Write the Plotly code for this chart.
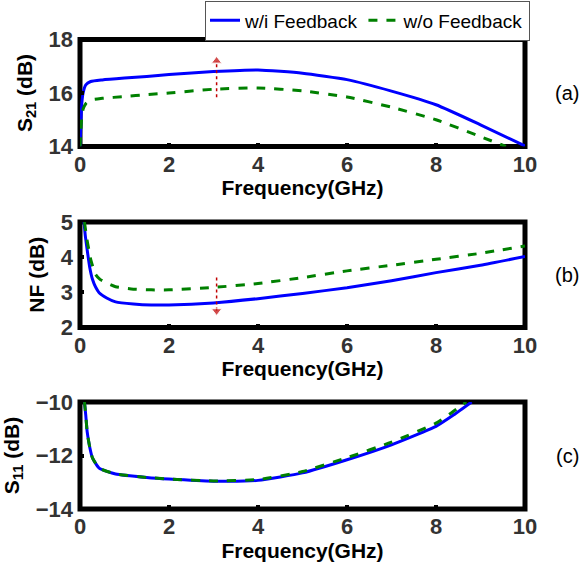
import plotly.graph_objects as go
from plotly.subplots import make_subplots

# ---------------- data ----------------
freq_ticks = [0, 2, 4, 6, 8, 10]

# (a) S21
s21_fb_x = [0, 0.02, 0.04, 0.07, 0.13, 0.24, 0.5, 1.0, 1.5, 2, 3, 4, 5, 6, 7, 8, 9, 10]
s21_fb_y = [14, 14.8, 15.6, 16.0, 16.3, 16.43, 16.49, 16.56, 16.62, 16.69, 16.8, 16.86, 16.74, 16.5, 16.07, 15.56, 14.81, 14.02]
s21_nofb_x = [0, 0.02, 0.04, 0.07, 0.13, 0.24, 0.5, 1.0, 1.5, 2, 3, 4, 5, 6, 7, 8, 9, 9.57]
s21_nofb_y = [14, 14.6, 15.1, 15.4, 15.6, 15.74, 15.8, 15.87, 15.94, 16.0, 16.14, 16.19, 16.08, 15.85, 15.47, 15.0, 14.37, 14.0]

# (b) NF
nf_fb_x = [0.09, 0.12, 0.16, 0.22, 0.28, 0.35, 0.43, 0.6, 0.8, 1.2, 1.6, 2, 3, 4, 5, 6, 7, 8, 9, 10]
nf_fb_y = [5.0, 4.6, 4.22, 3.7, 3.37, 3.15, 2.99, 2.84, 2.73, 2.67, 2.64, 2.64, 2.7, 2.82, 2.97, 3.13, 3.33, 3.56, 3.77, 4.02]
nf_nofb_x = [0.1, 0.15, 0.2, 0.24, 0.3, 0.35, 0.45, 0.58, 0.8, 1.2, 1.6, 2, 3, 4, 5, 6, 7, 8, 9, 10]
nf_nofb_y = [5.0, 4.55, 4.2, 3.94, 3.68, 3.51, 3.37, 3.28, 3.16, 3.09, 3.07, 3.07, 3.14, 3.25, 3.42, 3.61, 3.77, 3.94, 4.11, 4.32]

# (c) S11
s11_fb_x = [0.1, 0.13, 0.16, 0.22, 0.28, 0.43, 0.8, 1.5, 2, 3, 4, 5, 6, 7, 8, 8.4, 8.8]
s11_fb_y = [-10, -10.5, -11.1, -11.7, -12.09, -12.47, -12.69, -12.82, -12.88, -12.96, -12.93, -12.65, -12.16, -11.6, -10.91, -10.48, -10.0]
s11_nofb_x = [0.1, 0.13, 0.16, 0.22, 0.28, 0.43, 0.8, 1.5, 2, 3, 4, 5, 6, 7, 8, 8.35, 8.68]
s11_nofb_y = [-10, -10.5, -11.1, -11.7, -12.09, -12.47, -12.69, -12.82, -12.88, -12.95, -12.9, -12.6, -12.08, -11.5, -10.79, -10.4, -10.0]

# arrows (improvement markers)
arrow_x = [3.07, 3.07]
arrow_a_y = [15.84, 17.2]
arrow_b_y = [3.42, 2.47]

series_names = ["w/i Feedback", "w/o Feedback"]
panel_labels = ["(a)", "(b)", "(c)"]
y_titles = ["S<sub>21</sub> (dB)", "NF (dB)", "S<sub>11</sub> (dB)"]
y_ranges = [[14, 18], [2, 5], [-14, -10]]
y_ticks = [[14, 16, 18], [2, 3, 4, 5], [-14, -12, -10]]

# ---------------- figure ----------------
W, H = 583, 571
L, R = 80, 58
BLUE = "#0000ff"
GREEN = "#008000"
RED = "#c00000"
FONT = "Liberation Sans, Arial, sans-serif"

fig = make_subplots(rows=3, cols=1)

panels = [
    (s21_fb_x, s21_fb_y, s21_nofb_x, s21_nofb_y),
    (nf_fb_x, nf_fb_y, nf_nofb_x, nf_nofb_y),
    (s11_fb_x, s11_fb_y, s11_nofb_x, s11_nofb_y),
]

for i, (fx, fy, nx, ny) in enumerate(panels):
    r = i + 1
    fig.add_trace(go.Scatter(x=fx, y=fy, mode="lines", name=series_names[0],
                             line=dict(color=BLUE, width=3, shape="spline", smoothing=0.5),
                             showlegend=(i == 0), legendgroup="a"), row=r, col=1)
    fig.add_trace(go.Scatter(x=nx, y=ny, mode="lines", name=series_names[1],
                             line=dict(color=GREEN, width=3, dash="dash", shape="spline", smoothing=0.5),
                             showlegend=(i == 0), legendgroup="b"), row=r, col=1)

# red dotted arrows
fig.add_trace(go.Scatter(x=arrow_x, y=arrow_a_y, mode="lines+markers",
                         line=dict(color=RED, width=1.5, dash="dot"),
                         marker=dict(symbol=["circle", "triangle-up"], size=[0, 9], color=RED),
                         showlegend=False, hoverinfo="skip"), row=1, col=1)
fig.add_trace(go.Scatter(x=arrow_x, y=arrow_b_y, mode="lines+markers",
                         line=dict(color=RED, width=1.5, dash="dot"),
                         marker=dict(symbol=["circle", "triangle-down"], size=[0, 9], color=RED),
                         showlegend=False, hoverinfo="skip"), row=2, col=1)

y_px = [(39.5, 146.5), (222, 327.5), (402, 509)]

for i in range(3):
    r = i + 1
    top, bot = y_px[i]
    fig.update_xaxes(row=r, col=1, domain=[0, 1], range=[0, 10], automargin=False,
                     tickvals=freq_ticks, ticks="inside", ticklen=4, tickwidth=4, tickcolor="black",
                     showgrid=False, zeroline=False, showline=False, ticklabelstandoff=2,
                     tickfont=dict(family=FONT, size=22, color="#333333", weight="bold"),
                     title=dict(text="Frequency(GHz)", standoff=4,
                                font=dict(family=FONT, size=21, color="black", weight="bold")))
    fig.update_yaxes(row=r, col=1, domain=[1 - bot / H, 1 - top / H], range=y_ranges[i],
                     automargin=False,
                     tickvals=y_ticks[i], ticks="inside", ticklen=4, tickwidth=4, tickcolor="black",
                     showgrid=False, zeroline=False, showline=False, ticklabelstandoff=6,
                     tickfont=dict(family=FONT, size=22, color="#333333", weight="bold"),
                     title=dict(text=y_titles[i], standoff=10,
                                font=dict(family=FONT, size=21, color="black", weight="bold")))
    xr = "x" if i == 0 else f"x{r}"
    yr = "y" if i == 0 else f"y{r}"
    fig.add_shape(type="rect", xref=f"{xr} domain", yref=f"{yr} domain", x0=0, x1=1, y0=0, y1=1,
                  line=dict(color="black", width=5), layer="below")
    fig.add_annotation(text=panel_labels[i], xref="paper", yref="paper",
                       x=(567 - L) / (W - L - R), y=1 - ((top + bot) / 2) / H, showarrow=False,
                       xanchor="center", yanchor="middle",
                       font=dict(family=FONT, size=20, color="black"))

fig.update_layout(
    width=W, height=H,
    margin=dict(l=L, r=R, t=0, b=0, autoexpand=False),
    paper_bgcolor="white", plot_bgcolor="white",
    showlegend=True,
    legend=dict(orientation="h", x=(205 - L) / (W - L - R), xanchor="left",
                y=1 - 0.5 / H, yanchor="top",
                bordercolor="#555555", borderwidth=1, bgcolor="white",
                font=dict(family=FONT, size=19, color="black"),
                itemwidth=30, tracegroupgap=0),
)

fig.write_html("out.html", config={"displayModeBar": False},
               post_script="document.body.style.margin='0px';document.body.style.overflow='hidden';")
